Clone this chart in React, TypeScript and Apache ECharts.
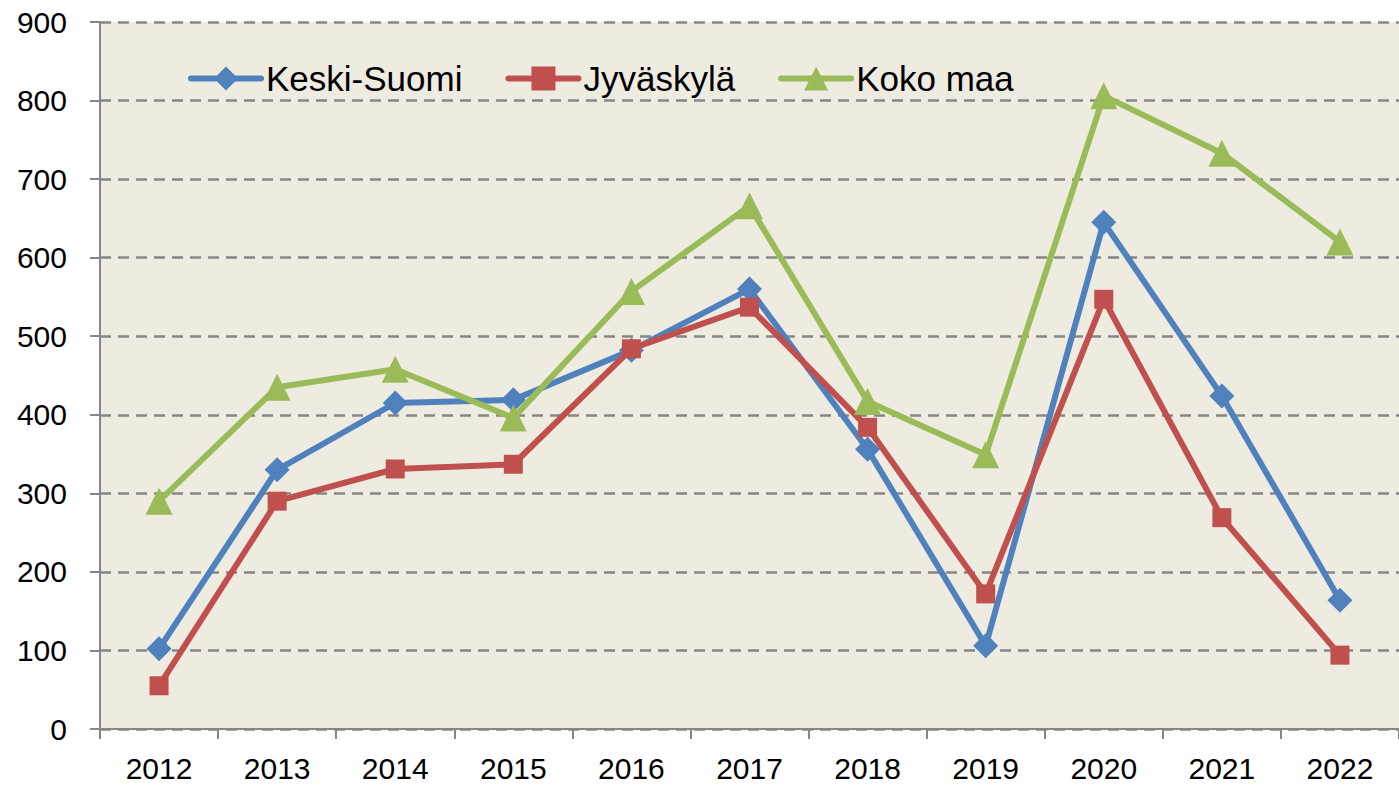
import React, { useEffect, useRef } from "react";
import * as echarts from "echarts";

const years = ["2012", "2013", "2014", "2015", "2016", "2017", "2018", "2019", "2020", "2021", "2022"];
const keskiSuomi = [102, 330, 415, 419, 482, 560, 356, 106, 645, 424, 164];
const jyvaskyla = [55, 290, 331, 337, 484, 537, 384, 172, 547, 269, 94];
const kokoMaa = [290, 435, 458, 396, 557, 666, 417, 349, 806, 733, 620];

const FONT = "'Liberation Sans', Arial, sans-serif";

export default function App() {
  const ref = useRef<HTMLDivElement>(null);
  useEffect(() => {
    if (!ref.current) return;
    const chart = echarts.init(ref.current, undefined, { renderer: "svg" });
    const mk = (name: string, data: number[], color: string, symbol: string, size: number) => ({
      name,
      type: "line",
      data,
      symbol,
      symbolSize: size,
      showAllSymbol: true,
      lineStyle: { color, width: 6 },
      itemStyle: { color },
    });
    chart.setOption({
      animation: false,
      grid: {
        left: 100,
        right: 0,
        top: 22,
        bottom: 61,
        show: true,
        backgroundColor: "#EEECE1",
        borderWidth: 0,
      },
      legend: {
        left: 183,
        top: 56,
        itemWidth: 70,
        itemHeight: 30,
        itemGap: 43,
        lineStyle: { width: 6, cap: "round" },
        textStyle: { fontFamily: FONT, fontSize: 35, color: "#000" },
        data: ["Keski-Suomi", "Jyväskylä", "Koko maa"],
      },
      xAxis: {
        type: "category",
        data: years,
        boundaryGap: true,
        axisLine: { lineStyle: { color: "#868686", width: 2 } },
        axisTick: { show: true, length: 10, lineStyle: { color: "#868686", width: 2 }, alignWithLabel: false },
        axisLabel: { fontFamily: FONT, fontSize: 30, color: "#000", margin: 24 },
        splitLine: { show: false },
      },
      yAxis: {
        type: "value",
        min: 0,
        max: 900,
        interval: 100,
        axisLine: { show: true, lineStyle: { color: "#868686", width: 2 } },
        axisTick: { show: true, length: 10, lineStyle: { color: "#868686", width: 2 } },
        axisLabel: { fontFamily: FONT, fontSize: 30, color: "#000", margin: 33 },
        splitLine: { show: true, lineStyle: { color: "#868686", width: 2.5, type: [11, 7] } },
      },
      series: [
        mk("Keski-Suomi", keskiSuomi, "#4F81BD", "diamond", 25),
        mk("Jyväskylä", jyvaskyla, "#C0504D", "rect", 19),
        mk("Koko maa", kokoMaa, "#9BBB59", "triangle", 27),
      ],
    });
    return () => chart.dispose();
  }, []);
  return (
    <div
      ref={ref}
      style={{ position: "fixed", left: 0, top: 0, width: 1399, height: 790, background: "#fff" }}
    />
  );
}
